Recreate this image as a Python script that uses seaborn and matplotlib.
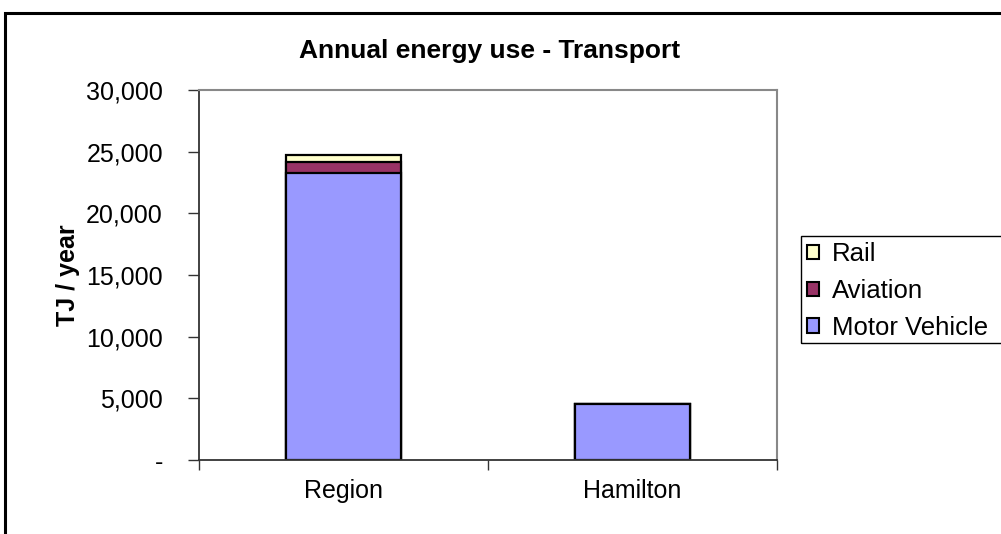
import matplotlib
matplotlib.use("Agg")
import matplotlib.pyplot as plt
import matplotlib.patches as mpatches
import matplotlib.ticker as mticker
import numpy as np
import pandas as pd
import seaborn as sns

# Annual transport energy use (TJ / year)
places = ["Region", "Hamilton"]
motor_vehicle = [23300, 4550]
aviation = [900, 0]
rail = [550, 0]

series_colors = {"Motor Vehicle": "#9999FF", "Aviation": "#993366", "Rail": "#FFFFCC"}
legend_order = ["Rail", "Aviation", "Motor Vehicle"]

sns.set_theme(style="white")
plt.rcParams["font.family"] = ["Liberation Sans", "DejaVu Sans"]
for key in ["text.color", "axes.labelcolor", "xtick.color", "ytick.color"]:
    plt.rcParams[key] = "black"

W, H = 1001, 534
fig = plt.figure(figsize=(W / 100, H / 100), dpi=100)
ax = fig.add_axes([199 / W, 1 - 460 / H, 578 / W, 370 / H])

# stacked bars: draw running totals from the top segment down
cum_mv = np.array(motor_vehicle, dtype=float)
cum_av = cum_mv + np.array(aviation, dtype=float)
cum_rail = cum_av + np.array(rail, dtype=float)
layers = [("Rail", cum_rail), ("Aviation", cum_av), ("Motor Vehicle", cum_mv)]
for name, tops in layers:
    df = pd.DataFrame({"place": places, "value": tops})
    sns.barplot(data=df, x="place", y="value", order=places, color=series_colors[name],
                width=0.4, edgecolor="black", linewidth=1.6, saturation=1, ax=ax)

ax.set_ylim(0, 30000)
ax.set_xlim(-0.5, 1.5)
ax.yaxis.set_major_locator(mticker.MultipleLocator(5000))
ax.yaxis.set_major_formatter(mticker.FuncFormatter(lambda v, p: "-" if v == 0 else f"{v:,.0f}"))
ax.set_xticks([0, 1])
ax.set_xticklabels(places)
ax.set_xticks([-0.5, 0.5, 1.5], minor=True)
ax.tick_params(axis="x", which="major", length=0, pad=13.5, labelsize=18)
ax.tick_params(axis="x", which="minor", length=7, width=1, color="#333333", direction="out", bottom=True)
ax.tick_params(axis="y", length=8, width=1, color="#333333", direction="out", left=True, labelsize=18, pad=18)
ax.set_xlabel("")
ax.set_ylabel("TJ / year", fontsize=18, fontweight="bold")
ax.yaxis.set_label_coords((80 - 199) / 578, 0.5)

for side in ["left", "bottom"]:
    ax.spines[side].set_color("#333333")
    ax.spines[side].set_linewidth(1.3)
for side in ["top", "right"]:
    ax.spines[side].set_visible(True)
    ax.spines[side].set_color("#888888")
    ax.spines[side].set_linewidth(1.5)

fig.text(490 / W, 1 - 51 / H, "Annual energy use - Transport", ha="center", va="center",
         fontsize=19, fontweight="bold")

handles = [mpatches.Patch(facecolor=series_colors[n], edgecolor="black", linewidth=1.5, label=n)
           for n in legend_order]
leg = fig.legend(handles=handles, loc="upper left", bbox_to_anchor=(807 / W, 1 - 242 / H),
                 frameon=False, fontsize=18.5, handlelength=0.47, handleheight=0.47,
                 handletextpad=0.5, labelspacing=0.5, borderpad=0.0, borderaxespad=0)

# legend frame and outer chart frame
fig.patches.append(mpatches.Rectangle((801 / W, 1 - 343 / H), 220 / W, 107 / H,
                                      transform=fig.transFigure, fill=False,
                                      edgecolor="black", linewidth=1.0))
fig.patches.append(mpatches.Rectangle((5 / W, -0.05), 1.1, 1 - 13 / H + 0.05,
                                      transform=fig.transFigure, fill=False,
                                      edgecolor="black", linewidth=2.2))

fig.savefig("out.png", dpi=100)
